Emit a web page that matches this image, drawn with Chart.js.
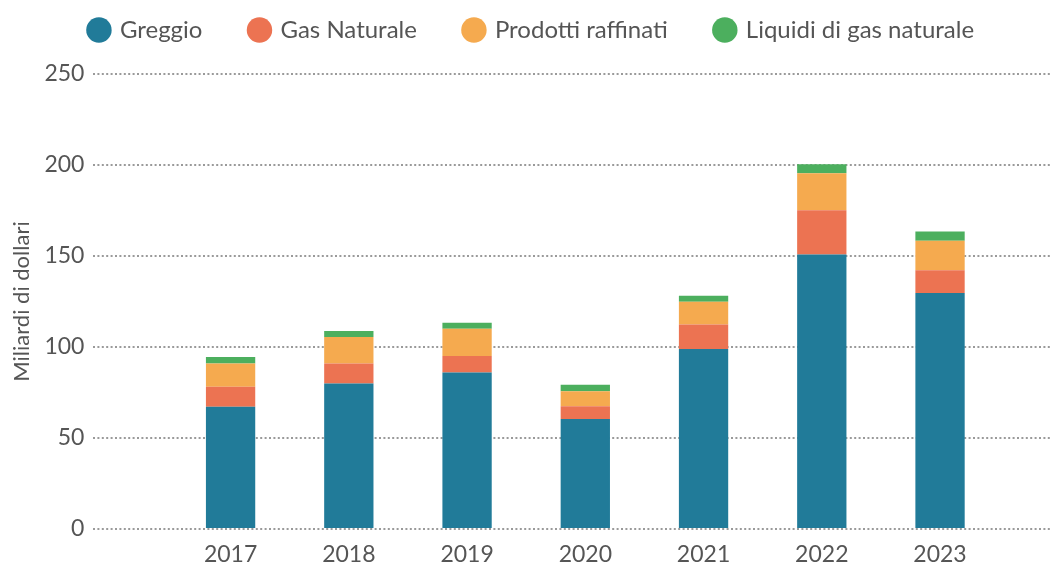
<!DOCTYPE html>
<html>
<head>
<meta charset="utf-8">
<script src="https://cdn.jsdelivr.net/npm/chart.js@4/dist/chart.umd.min.js"></script>
<style>
  html, body { margin: 0; padding: 0; background: #fff; }
  #wrap { width: 1051px; height: 563px; }
</style>
</head>
<body>
<div id="wrap"><canvas id="chart" width="1051" height="563"></canvas></div>
<script>
// anni e valori (miliardi di dollari)
const years = [2017, 2018, 2019, 2020, 2021, 2022, 2023];
const greggio = [67.2, 80.0, 86.0, 60.4, 98.9, 150.8, 129.7];
const gasNaturale = [10.9, 11.0, 9.0, 7.0, 13.4, 24.3, 12.5];
const prodottiRaffinati = [12.9, 14.5, 15.0, 8.3, 12.6, 20.3, 16.2];
const liquidiGas = [3.5, 3.3, 3.3, 3.5, 3.3, 5.0, 5.0];
const yTicks = [0, 50, 100, 150, 200, 250];

const textColor = '#555555';
const fontFamily = 'Lato, "Open Sans", sans-serif';
const fontSize = 23;

// costruisce i punti {x, y} per l'asse lineare
function toPoints(values) {
  return years.map((yr, i) => ({ x: yr, y: values[i] }));
}

const series = [
  { label: 'Greggio', values: greggio, color: '#217b99' },
  { label: 'Gas Naturale', values: gasNaturale, color: '#ec7352' },
  { label: 'Prodotti raffinati', values: prodottiRaffinati, color: '#f5aa4f' },
  { label: 'Liquidi di gas naturale', values: liquidiGas, color: '#4caf5e' },
];

// spazio extra sotto la legenda e piccolo spostamento a destra
const legendGap = {
  id: 'legendGap',
  beforeInit(chart) {
    const fit = chart.legend.fit;
    chart.legend.fit = function () {
      fit.bind(chart.legend)();
      this.height += 22;
    };
  },
  afterLayout(chart) {
    chart.legend.left += 7;
    chart.legend.right += 7;
  },
};

new Chart(document.getElementById('chart').getContext('2d'), {
  type: 'bar',
  data: {
    datasets: series.map(s => ({
      label: s.label,
      data: toPoints(s.values),
      backgroundColor: s.color,
      borderWidth: 0,
      categoryPercentage: 1,
      barPercentage: 0.417,
    })),
  },
  plugins: [legendGap],
  options: {
    responsive: false,
    animation: false,
    layout: { padding: { top: -30, right: 1, bottom: -17, left: 0 } },
    plugins: {
      tooltip: { enabled: false },
      legend: {
        position: 'top',
        labels: {
          usePointStyle: true,
          pointStyle: 'circle',
          boxWidth: 18,
          boxHeight: 18,
          padding: 48,
          color: textColor,
          font: { family: fontFamily, size: 24 },
        },
      },
    },
    scales: {
      x: {
        type: 'linear',
        stacked: true,
        offset: false,
        min: 2015.84,
        max: 2023.93,
        grid: { display: false, drawTicks: false },
        border: { display: false },
        ticks: {
          stepSize: 1,
          includeBounds: false,
          autoSkip: false,
          maxRotation: 0,
          padding: 14,
          color: textColor,
          font: { family: fontFamily, size: fontSize, lineHeight: 1 },
          callback: (v) => (years.includes(v) ? String(v) : ''),
        },
      },
      y: {
        stacked: true,
        min: 0,
        max: 250,
        afterBuildTicks: (axis) => { axis.ticks = yTicks.map(v => ({ value: v })); },
        grid: {
          color: '#9a9a9a',
          lineWidth: 2,
          drawTicks: false,
        },
        border: { display: false, dash: [2, 2.4] },
        ticks: {
          padding: 9,
          color: textColor,
          font: { family: fontFamily, size: fontSize },
        },
        title: {
          display: true,
          text: 'Miliardi di dollari',
          color: textColor,
          padding: { top: 9, bottom: 0 },
          font: { family: fontFamily, size: 22, lineHeight: 1.2 },
        },
      },
    },
  },
});
</script>
</body>
</html>
